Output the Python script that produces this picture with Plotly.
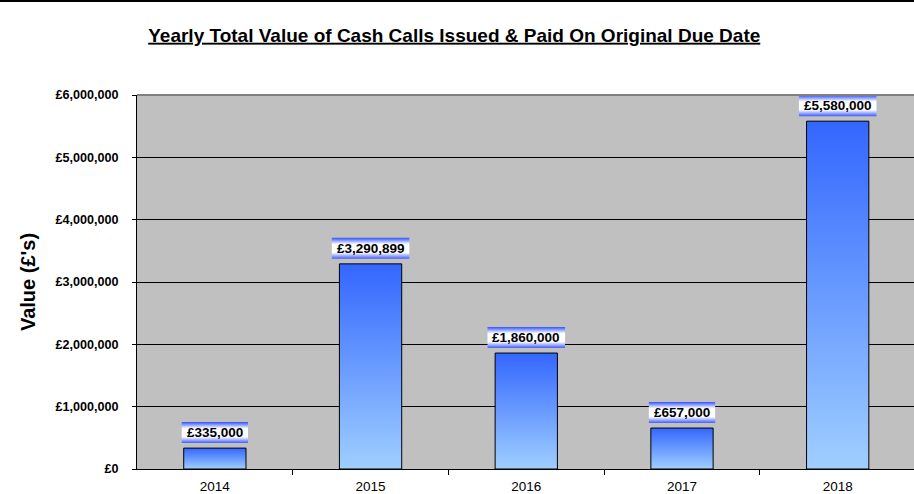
import plotly.graph_objects as go

years = ["2014", "2015", "2016", "2017", "2018"]
values = [335000, 3290899, 1860000, 657000, 5580000]
labels = ["£335,000", "£3,290,899", "£1,860,000", "£657,000", "£5,580,000"]

TITLE = "Yearly Total Value of Cash Calls Issued & Paid On Original Due Date"

W, H = 914, 494
M_L, M_R, M_T, M_B = 137, 0, 95, 25
X_RANGE = [-0.5, 4.49]
Y_RANGE = [0, 6000000]
px_x = (W - M_L - M_R) / (X_RANGE[1] - X_RANGE[0])
px_y = (H - M_T - M_B) / (Y_RANGE[1] - Y_RANGE[0])

BAR_HALF = 0.2
LABEL_FS = 13.5
CHAR_W = {",": 0.278, ".": 0.278}


def text_px(s, fs):
    return sum(CHAR_W.get(c, 0.556) for c in s) * fs


fig = go.Figure()

# bars with vertical gradient (dark blue at top, light at bottom)
for i, v in enumerate(values):
    fig.add_trace(go.Scatter(
        x=[i - BAR_HALF, i + BAR_HALF, i + BAR_HALF, i - BAR_HALF, i - BAR_HALF],
        y=[0, 0, v, v, 0],
        mode="lines", fill="toself",
        line=dict(color="black", width=1),
        fillgradient=dict(type="vertical",
                          colorscale=[[0, "#9fcfff"], [1, "#3366ff"]]),
        hoverinfo="skip", showlegend=False,
    ))

# data label boxes
for i, (v, lab) in enumerate(zip(values, labels)):
    half = (text_px(lab, LABEL_FS) + 10) / 2 / px_x
    y0 = v + 5 / px_y
    y1 = y0 + 21 / px_y
    fig.add_trace(go.Scatter(
        x=[i - half, i + half, i + half, i - half, i - half],
        y=[y0, y0, y1, y1, y0],
        mode="lines", fill="toself",
        line=dict(width=0),
        fillgradient=dict(type="vertical",
                          colorscale=[[0, "#3d5cff"], [0.3, "#ffffff"],
                                      [0.7, "#ffffff"], [1, "#3355ff"]]),
        hoverinfo="skip", showlegend=False,
    ))
    fig.add_annotation(
        x=i, y=(y0 + y1) / 2, text=f"<b>{lab}</b>", showarrow=False,
        font=dict(family="Liberation Sans, Arial", size=LABEL_FS, color="black"),
        xanchor="center", yanchor="middle",
    )

fig.update_layout(
    width=W, height=H,
    margin=dict(l=M_L, r=M_R, t=M_T, b=M_B),
    paper_bgcolor="white",
    plot_bgcolor="#c0c0c0",
    font=dict(family="Liberation Sans, Arial", color="black"),
    title=dict(text=f"<b><u>{TITLE}</u></b>", x=0.497, xref="container",
               xanchor="center", y=0.929, yref="container", yanchor="middle",
               font=dict(size=19, color="black")),
    showlegend=False,
)
fig.update_xaxes(
    range=X_RANGE, tickvals=list(range(len(years))), ticktext=years,
    showgrid=False, zeroline=False, ticks="",
    showline=True, linecolor="black", linewidth=1,
    tickfont=dict(size=13.5), ticklabelstandoff=5,
    minor=dict(tickvals=[i + 0.5 for i in range(len(years) - 1)],
               ticks="outside", ticklen=5, tickcolor="black", showgrid=False),
)
fig.update_yaxes(
    range=Y_RANGE, dtick=1000000, tickprefix="£", tickformat=",d",
    showgrid=True, gridcolor="black", gridwidth=1, zeroline=False,
    showline=True, linecolor="black", linewidth=1,
    ticks="outside", ticklen=4, tickcolor="black", ticklabelstandoff=11,
    tickfont=dict(size=12.6, family="Liberation Sans, Arial", weight="bold"),
    title=dict(text="<b>Value (£'s)</b>", font=dict(size=20), standoff=14),
)

# plot-area top border and chart frame line
fig.add_shape(type="line", xref="paper", yref="paper", x0=0, x1=1, y0=1, y1=1,
              line=dict(color="#808080", width=2))
frame_y = 1 + (M_T - 1) / (H - M_T - M_B)
fig.add_shape(type="line", xref="paper", yref="paper",
              x0=-M_L / (W - M_L), x1=1.0, y0=frame_y, y1=frame_y,
              line=dict(color="black", width=2))

fig.write_html("out.html", config={"displayModeBar": False},
               post_script="document.body.style.margin = '0';")
